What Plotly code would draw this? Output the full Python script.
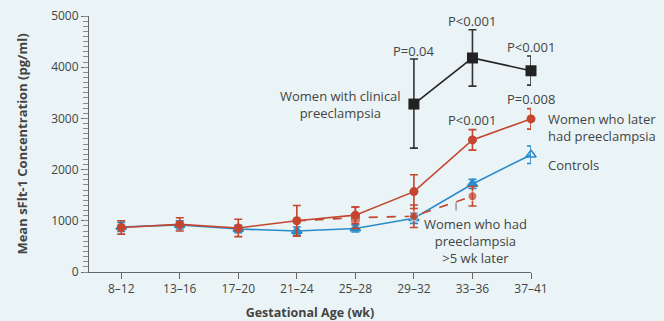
import plotly.graph_objects as go

categories = ["8–12", "13–16", "17–20", "21–24", "25–28", "29–32", "33–36", "37–41"]
controls = [880, 920, 840, 800, 850, 1050, 1720, 2290]
controls_err = [90, 80, 70, 80, 70, 100, 90, 170]
later = [870, 930, 860, 1000, 1110, 1570, 2580, 2990]
later_err = [130, 130, 170, 300, 160, 330, 200, 200]
late5_idx = [3, 4, 5, 6]
late5 = [1000, 1060, 1090, 1480]
late5_err = [0, 210, 220, 190]
clin_idx = [5, 6, 7]
clinical = [3280, 4180, 3930]
clin_err_plus = [880, 550, 290]
clin_err_minus = [860, 550, 280]

RED = "#C4462F"
BLUE = "#2A8BCB"
BLACK = "#222222"
TXT = "#444444"
BG = "#EAF4F6"
FONT = "Open Sans"

x_all = list(range(len(categories)))
fig = go.Figure()

fig.add_trace(go.Scatter(
    x=x_all, y=controls, mode="lines+markers",
    line=dict(color=BLUE, width=1.6),
    marker=dict(symbol=["triangle-up"] * 7 + ["triangle-up-open"], size=9, color=BLUE,
                line=dict(width=1.5, color=BLUE)),
    error_y=dict(type="data", array=controls_err, color=BLUE, thickness=1.6, width=4),
    cliponaxis=False, showlegend=False))

fig.add_trace(go.Scatter(
    x=late5_idx, y=late5, mode="lines+markers",
    line=dict(color=RED, width=1.6, dash="dash"),
    marker=dict(symbol=["circle", "square", "circle", "circle"], size=[0, 10, 9, 9], color=RED),
    error_y=dict(type="data", array=late5_err, color=RED, thickness=1.6, width=4),
    cliponaxis=False, showlegend=False))

fig.add_trace(go.Scatter(
    x=x_all, y=later, mode="lines+markers",
    line=dict(color=RED, width=1.6),
    marker=dict(symbol="circle", size=9, color=RED),
    error_y=dict(type="data", array=later_err, color=RED, thickness=1.6, width=4),
    cliponaxis=False, showlegend=False))

fig.add_trace(go.Scatter(
    x=clin_idx, y=clinical, mode="lines+markers",
    line=dict(color=BLACK, width=1.6),
    marker=dict(symbol="square", size=11, color=BLACK),
    error_y=dict(type="data", symmetric=False, array=clin_err_plus, arrayminus=clin_err_minus,
                 color="#333333", thickness=1.6, width=4),
    cliponaxis=False, showlegend=False))

# invisible trace to activate a minor-tick axis
fig.add_trace(go.Scatter(x=[0], y=[0], yaxis="y2", mode="markers",
                         marker=dict(opacity=0), hoverinfo="skip", showlegend=False))

def ann(x, y, text, xanchor="center", xref="x"):
    fig.add_annotation(x=x, y=y, xref=xref, text=text, showarrow=False, xanchor=xanchor, yanchor="middle",
                       align="center" if xanchor == "center" else "left",
                       font=dict(family=FONT, size=13, color=TXT))

ann(5.0, 4316, "P=0.04")
ann(6, 4902, "P<0.001")
ann(7, 4395, "P<0.001")
ann(7, 3379, "P=0.008")
ann(6, 2969, "P<0.001")
ann(3.74, 3271, "Women with clinical<br>preeclampsia")
ann(1.034, 2832, "Women who later<br>had preeclampsia", xanchor="left", xref="paper")
ann(1.034, 2090, "Controls", xanchor="left", xref="paper")
ann(6.06, 605, "Women who had<br>preeclampsia<br>>5 wk later")

fig.add_shape(type="line", x0=5.72, x1=5.72, y0=1200, y1=1360,
              line=dict(color="#666666", width=1))

fig.update_layout(
    width=664, height=321,
    margin=dict(l=89, r=133, t=16, b=49),
    paper_bgcolor=BG, plot_bgcolor=BG,
    font=dict(family=FONT, size=12, color=TXT),
    xaxis=dict(range=[-0.55, 7], tickvals=x_all, ticktext=categories, automargin=False,
               showgrid=False, zeroline=False, showline=True, linecolor="#666666", linewidth=1,
               ticks="outside", ticklen=6, tickcolor="#666666",
               tickfont=dict(family=FONT, size=12, color=TXT),
               title=dict(text="<b>Gestational Age (wk)</b>", font=dict(family=FONT, size=12.5, color=TXT),
                          standoff=12)),
    yaxis2=dict(range=[0, 5000], tick0=0, dtick=100, overlaying="y", side="left", anchor="x",
                automargin=False, showgrid=False, zeroline=False, showline=False,
                showticklabels=False, ticks="outside", ticklen=5, tickcolor="#8a8a8a", tickwidth=1),
    yaxis=dict(range=[0, 5000], tick0=0, dtick=1000, automargin=False,
               showgrid=False, zeroline=False, showline=True, linecolor="#666666", linewidth=1,
               ticks="outside", ticklen=7, tickcolor="#666666",
               tickfont=dict(family=FONT, size=12, color=TXT),
               title=dict(text="<b>Mean sFlt-1 Concentration (pg/ml)</b>",
                          font=dict(family=FONT, size=13, color=TXT), standoff=20)),
)

fig.write_html("out.html", config={"displayModeBar": False},
               post_script="document.body.style.margin='0';document.body.style.background='%s';" % BG)
